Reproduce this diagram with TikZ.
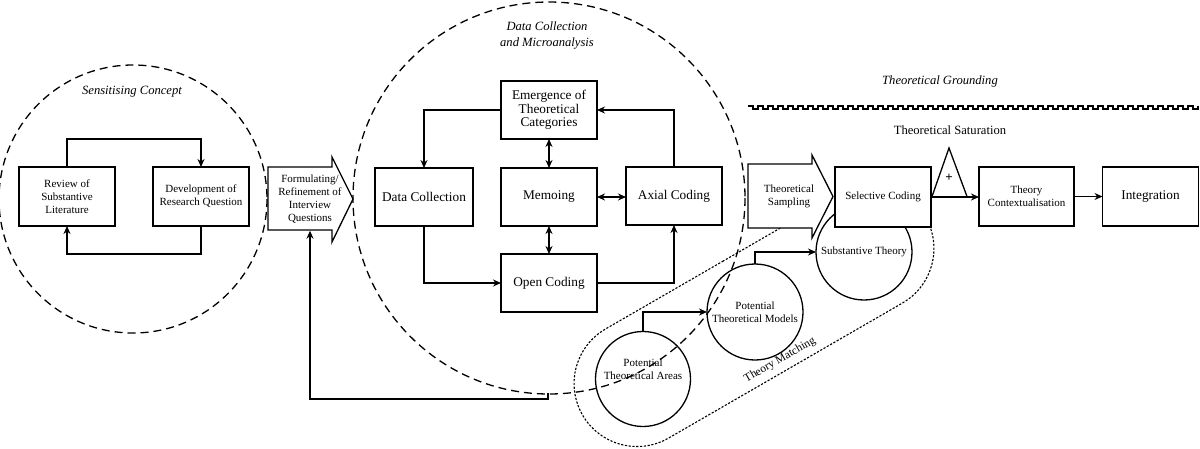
\documentclass[tikz,border=0pt]{standalone}
\usepackage{fontspec}
\setmainfont{Liberation Serif}
\usetikzlibrary{arrows.meta,shapes.misc,calc}
\tikzset{
  bigf/.style={font=\fontsize{13.3}{13.5}\selectfont},
  smallf/.style={font=\fontsize{11}{13}\selectfont},
  itf/.style={font=\fontsize{12.6}{16}\selectfont\itshape},
  box/.style={draw, line width=1.3pt, fill=white, align=center, inner sep=1pt, outer sep=0pt},
  circ/.style={draw, circle, line width=1.3pt, align=center, inner sep=0pt, outer sep=0pt, smallf},
  shp/.style={draw, line width=1.3pt, fill=white, line join=miter},
  arr/.style={line width=1.3pt, -{Stealth[length=8pt,width=7pt]}},
  darr/.style={line width=1.3pt, {Stealth[length=8pt,width=7pt]}-{Stealth[length=8pt,width=7pt]}},
  bigdash/.style={draw, line width=1.3pt, dash pattern=on 8pt off 5pt},
  dots/.style={draw, line width=1.1pt, dash pattern=on 2.2pt off 1.6pt}
}
\begin{document}
\begin{tikzpicture}[x=1pt,y=-1pt]
\useasboundingbox (0,0) rectangle (1200,448);
% dashed circles
\draw[bigdash] (133,199) circle[radius=134];
\draw[bigdash] (549,198) circle[radius=196];
\node[itf] (sc) at (132,92) {Sensitising Concept};
\node[itf, align=center] (dcm) at (547,35) {Data Collection\\and Microanalysis};
\node[itf] (tg) at (940,81) {Theoretical Grounding};
% square wave
\draw[line width=1.2pt] (748,106) \foreach \i in {1,...,45} { -- ++(5,0) -- ++(0,3) -- ++(5,0) -- ++(0,-3) };
\node[font=\fontsize{12.6}{15}\selectfont] (ts) at (950,130) {Theoretical Saturation};
% theory matching stadium
\node[rounded rectangle, dots, minimum width=396, minimum height=126, rotate=30, inner sep=0pt] (tm) at (754,316) {};
\node[rotate=30, font=\fontsize{11.5}{13}\selectfont] (tml) at (780,360) {Theory Matching};
% circles
\node[circ, minimum size=95] (pta) at (643,379) {};
\node[smallf, align=center] (ptat) at (643,369.5) {Potential\\Theoretical Areas};
\node[circ, minimum size=96] (ptm) at (755,312) {Potential\\Theoretical Models};
\node[circ, minimum size=96] (st) at (864,252) {Substantive Theory};
% left part
\node[box, smallf, minimum width=96, minimum height=59] (rev) at (67,196.5) {Review of\\Substantive\\Literature};
\node[box, smallf, minimum width=96, minimum height=59] (dev) at (201,196.5) {Development of\\Research Question};
\draw[arr] (rev.north) -- ++(0,-28) -| (dev.north);
\draw[arr] (dev.south) -- ++(0,28) -| (rev.south);
% formulating arrow
\draw[shp] (268,167) -- (332,167) -- (332,157) -- (353,199) -- (332,242) -- (332,230) -- (268,230) -- cycle;
\node[smallf, align=center, minimum height=63, inner sep=0pt] (form) at (310,199) {Formulating/\\Refinement of\\Interview\\Questions};
% data collection boxes
\node[box, bigf, minimum width=96, minimum height=58] (emer) at (549,110) {Emergence of\\Theoretical\\Categories};
\node[box, bigf, minimum width=98, minimum height=58] (dcol) at (424,197) {Data Collection};
\node[box, bigf, minimum width=96, minimum height=58] (memo) at (549,197) {Memoing};
\node[box, bigf, minimum width=96, minimum height=58] (axial) at (674,196) {Axial Coding};
\node[box, bigf, minimum width=96, minimum height=58] (open) at (549,283) {Open Coding};
\draw[arr] (emer.west) -| (dcol.north);
\draw[arr] (dcol.south) |- (open.west);
\draw[arr] (open.east) -| (axial.south);
\draw[arr] (axial.north) |- (emer.east);
\draw[darr] (emer.south) -- (memo.north);
\draw[darr] (memo.south) -- (open.north);
\draw[darr] (memo.east) -- (memo.east -| axial.west);
% right part
\draw[shp] (748,164) -- (812,164) -- (812,155) -- (833,196.5) -- (812,238) -- (812,228) -- (748,228) -- cycle;
\node[smallf, align=center] (samp) at (789,196) {Theoretical\\Sampling};
\node[box, smallf, minimum width=96, minimum height=60] (sel) at (883,197) {Selective Coding};
\node[box, smallf, minimum width=95, minimum height=59] (ctx) at (1026.5,196.5) {Theory\\Contextualisation};
\node[box, bigf, minimum width=96, minimum height=59] (integ) at (1150.5,196.5) {Integration};
\draw[line width=1.3pt, line join=miter] (932,196.5) -- (949,148) -- (967,196.5);
\node[font=\fontsize{13}{13}\selectfont\bfseries] (plus) at (949,178) {+};
\draw[arr] (sel.east) -- (sel.east -| ctx.west);
\draw[arr] (ctx.east) -- (ctx.east -| integ.west);
\draw[arr] (pta.north) |- (ptm.west);
\draw[arr] (ptm.north) |- (st.west);
% feedback
\coordinate (fbk) at (548,393);
\draw[arr] (fbk) -- ++(0,6) -| (form.south);
\end{tikzpicture}
\end{document}
